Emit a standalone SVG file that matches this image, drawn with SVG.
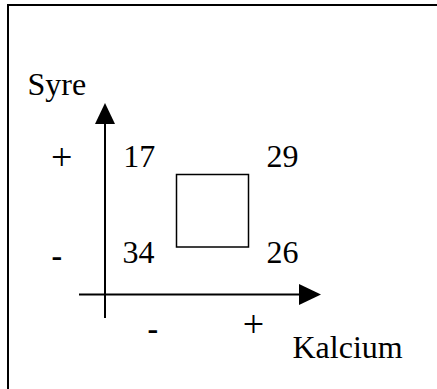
<svg xmlns="http://www.w3.org/2000/svg" width="437" height="389" viewBox="0 0 437 389">
<style>
.t{font-family:"Liberation Serif","Times New Roman",serif;font-size:32px;fill:#000}
.s{font-family:"Liberation Serif","Times New Roman",serif;font-size:38px;fill:#000}
.m{font-family:"Liberation Serif","Times New Roman",serif;font-size:32px;font-weight:bold;fill:#000}
.ax{stroke:#000;stroke-width:2;fill:none}
</style>
<rect x="0" y="0" width="437" height="389" fill="#fff"/>
<g id="frame"><rect x="8" y="5" width="440" height="400" fill="none" stroke="#000" stroke-width="2"/></g>
<g id="connectors">
<line class="ax" x1="105" y1="318" x2="105" y2="122"/>
<polygon points="105,103 95,124 115,124" fill="#000"/>
<line class="ax" x1="79" y1="294.5" x2="300" y2="294.5"/>
<polygon points="321,294.5 299,284 299,305" fill="#000"/>
</g>
<g id="box"><rect x="176.5" y="174.5" width="72" height="72.5" fill="none" stroke="#000" stroke-width="1.5"/></g>
<g id="labels">
<text class="t" x="27.5" y="94.5">Syre</text>
<text class="t" x="292.5" y="357.5">Kalcium</text>
<text class="s" x="51" y="169.5">+</text>
<text class="m" x="51.5" y="266">-</text>
<text class="m" x="147.5" y="339">-</text>
<text class="s" x="242.8" y="337">+</text>
<text class="t" x="123.2" y="166.5">17</text>
<text class="t" x="266.5" y="166.5">29</text>
<text class="t" x="122.5" y="262.5">34</text>
<text class="t" x="266.5" y="262.5">26</text>
</g>
</svg>
